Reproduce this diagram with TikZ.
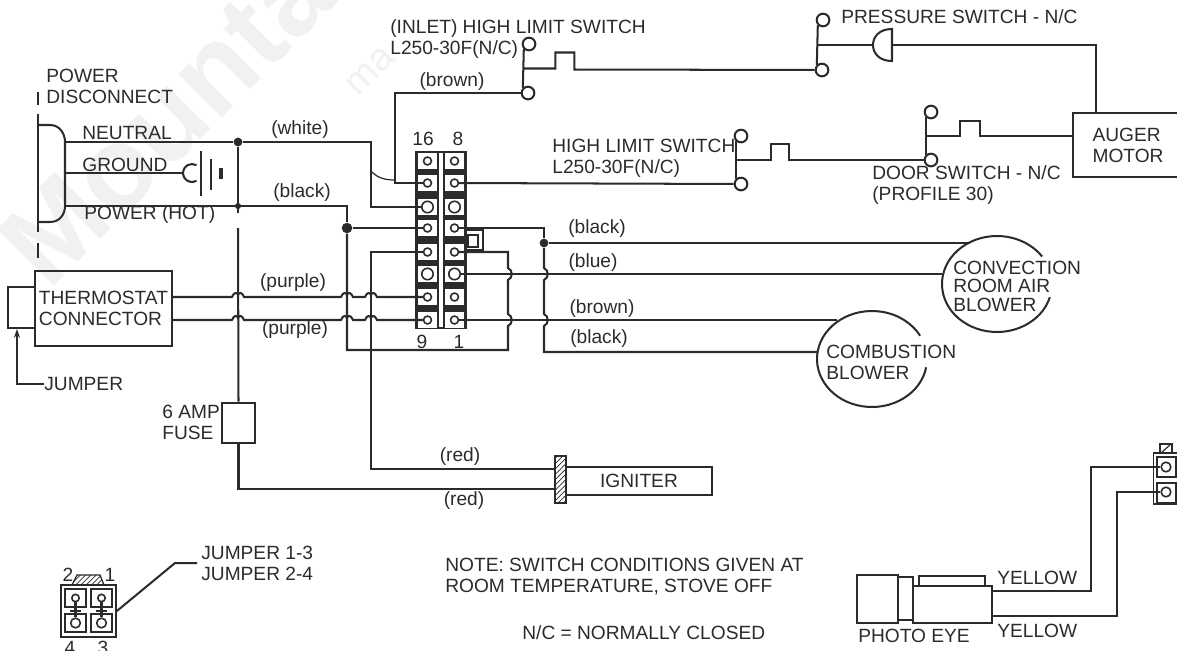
\documentclass[tikz,border=0pt]{standalone}
\usepackage{fontspec}
\setmainfont{Liberation Sans}
\usetikzlibrary{arrows.meta,patterns}
\definecolor{ink}{HTML}{2B2B2B}
\definecolor{mark}{HTML}{F1F1F1}
\newcommand{\hopv}[2]{-- (#1,#2-6) .. controls (#1+5,#2-4) and (#1+5,#2+4) .. (#1,#2+6)}
\newcommand{\hoph}[2]{-- (#1-6,#2) .. controls (#1-4,#2-5) and (#1-1,#2-5) .. (#1,#2-2) .. controls (#1+1,#2-5) and (#1+4,#2-5) .. (#1+6,#2)}
\tikzset{
    wire/.style={line width=1.15pt,draw=ink},
    thin wire/.style={line width=0.7pt,draw=ink},
    lbl/.style={inner sep=0pt,anchor=west,align=left,text=ink,font=\fontsize{10.9}{12}\selectfont},
    clbl/.style={lbl,anchor=center,align=center},
    contact/.style={circle,draw=ink,line width=1.15pt,fill=white,minimum size=7.2pt,inner sep=0pt},
    dot/.style={circle,fill=ink,minimum size=#1,inner sep=0pt},
    dot/.default=5pt,
    box/.style={rectangle,draw=ink,line width=1.15pt,inner sep=0pt,align=left,text=ink,font=\fontsize{10.9}{12}\selectfont},
    tbox/.style={rectangle,fill=white,minimum width=10.8pt,minimum height=9.6pt,inner sep=0pt},
    ring/.style={circle,draw=ink,line width=0.9pt,fill=white,inner sep=0pt,minimum size=#1}
}
\begin{document}
\begin{tikzpicture}[x=0.02cm,y=-0.02cm]
    \useasboundingbox (0,0) rectangle (1177,650);
    \node[rotate=45,anchor=base west,text=mark,inner sep=0pt,font=\fontsize{66}{66}\selectfont\bfseries] (markA) at (48,292) {Mountai};
    \node[rotate=45,anchor=base west,text=mark,inner sep=0pt,font=\fontsize{22}{22}\selectfont] (markB) at (358,98) {ma};

    % power disconnect
    \draw[wire] (38,92) -- (38,105);
    \draw[wire] (38,114) -- (38,232);
    \draw[wire] (38,243) -- (38,258);
    \draw[wire] (38,125) -- (50,125) .. controls (60,125) and (65,134) .. (65,142) -- (65,206) .. controls (65,214) and (60,222) .. (50,222) -- (38,222);
    \node[lbl] (power) at (46,86.5) {POWER\\DISCONNECT};
    \node[lbl] (neutral) at (82,133) {NEUTRAL};
    \node[lbl] (ground) at (82,165) {GROUND};
    \node[lbl] (hot) at (84,215) {POWER (HOT)};
    \coordinate (dN) at (65,142);
    \coordinate (dG) at (65,173);
    \coordinate (dH) at (65,206);
    \coordinate (gnd) at (183,173);
    \draw[thin wire] (dG) -- (gnd);
    \draw[wire] (192,173) ++(60:9) arc[start angle=60,end angle=300,radius=9];
    \draw[line width=1.5pt,draw=ink] (201,151) -- (201,196);
    \draw[wire] (211,159) -- (211,190);
    \draw[line width=1.8pt,draw=ink] (221,168) -- (221,179);

    % terminal block
    \node[rectangle,fill=ink,minimum width=29.5pt,minimum height=101pt,inner sep=0pt] (block) at (441,240) {};
    \fill[white] (439,153) rectangle (443,327);
    \foreach \n/\y/\r in {1/320/4.5pt,2/297/4.5pt,3/274/6.5pt,4/252/4.5pt,5/228/4.5pt,6/207/6.5pt,7/183/4.5pt,8/161/4.5pt}{
        \pgfmathtruncatemacro\m{\n+8}
        \node[tbox] (b\n) at (454.5,\y) {};
        \node[tbox] (b\m) at (427.5,\y) {};
        \node[ring=\r] (t\n) at (454.5,\y) {};
        \node[ring=\r] (t\m) at (427.5,\y) {};
    }
    \node[clbl] (n16) at (423,139) {16};
    \node[clbl] (n8) at (458,139) {8};
    \node[clbl] (n9) at (422,342) {9};
    \node[clbl] (n1) at (459,342) {1};
    \draw[wire] (467,230) -- (483,230) -- (483,250) -- (467,250);
    \draw[wire] (468,235) rectangle (478,247);

    % supply side
    \node[dot] (j1) at (238,142) {};
    \node[dot=3.5pt] (j2) at (238,206) {};
    \node[dot=6pt] (j3) at (347,228) {};
    \coordinate (wc) at (371,142);
    \draw[wire] (dN) -- (j1) -- (wc) |- (t14);
    \node[clbl] (white) at (300,130) {(white)};
    \draw[wire] (dH) -- (j2) -| (j3);
    \node[clbl] (blackA) at (302,193) {(black)};
    \draw[wire] (j1) -- (238,213);
    \draw[wire] (j3) -- (t13);
    \draw[thin wire] (372,172) .. controls (378,178) and (385,180) .. (395,180);

    % thermostat
    \node[box,minimum width=77.7pt,minimum height=43pt] (therm) at (103.5,308.5) {THERMOSTAT\\CONNECTOR};
    \coordinate (thA) at (35,287);
    \coordinate (thB) at (35,328);
    \draw[wire] (thA) -- (8,287) -- (8,328) -- (thB);
    \node[lbl] (jump) at (44,384) {JUMPER};
    \coordinate (jp) at (17,329);
    \draw[wire,-{Stealth[length=5pt,width=3.5pt]}] (jump.west) -| (jp);
    \coordinate (thP) at (172,297);
    \coordinate (thQ) at (172,320);
    \draw[wire] (thP) \hoph{238}{297} \hoph{347}{297} \hoph{371}{297} -- (t10);
    \draw[wire] (thQ) \hoph{238}{320} \hoph{347}{320} \hoph{371}{320} -- (t9);
    \node[clbl] (purpleA) at (293,283) {(purple)};
    \node[clbl] (purpleB) at (295,330) {(purple)};

    % fuse and igniter
    \node[box,minimum width=18.7pt,minimum height=23.2pt] (fuse) at (238.5,423) {};
    \node[lbl] (amp) at (162,422) {6 AMP\\FUSE};
    \coordinate (fg) at (238,228);
    \draw[wire] (fg) -- (fuse.north);
    \node[box,minimum width=82.8pt,minimum height=16.4pt] (igniter) at (639,481) {IGNITER};
    \node[rectangle,draw=ink,line width=0.8pt,pattern=north east lines,pattern color=ink,minimum width=6.2pt,minimum height=26.6pt,inner sep=0pt] (bar) at (560.5,479.5) {};
    \coordinate (igA) at (555,469);
    \coordinate (igB) at (555,489);
    \coordinate (rc) at (371,252);
    \draw[wire] (t12) -- (rc) |- (igA);
    \draw[wire] (fuse.south) |- (igB);
    \node[clbl] (redA) at (460,457) {(red)};
    \node[clbl] (redB) at (464,501) {(red)};

    % switches
    \node[contact] (inA) at (529,44) {};
    \node[contact] (inB) at (528,93) {};
    \draw[wire] (inA.south west) -- (inB.north west) coordinate[midway] (inM);
    \node[lbl] (inlet) at (390,39) {(INLET) HIGH LIMIT SWITCH\\L250-30F(N/C)};
    \coordinate (bc) at (395,93);
    \draw[wire] (inB) -- (bc) |- (t15);
    \node[clbl] (brownA) at (452,82) {(brown)};
    \node[contact] (prA) at (823,20) {};
    \node[contact] (prB) at (822,70) {};
    \draw[wire] (prA.south west) -- (prB.north west) coordinate[midway] (prM);
    \node[lbl] (press) at (841,17) {PRESSURE SWITCH - N/C};
    \draw[wire] (inM) -- ++(32,0) -- ++(0,-16) -- ++(19,0) -- ++(0,17) -- (prB);
    \coordinate (prL) at (873,45);
    \coordinate (prR) at (892,45);
    \draw[wire] (892,29) .. controls (879,29) and (873,37) .. (prL) .. controls (873,53) and (879,61) .. (892,61) -- cycle;
    \draw[thin wire] (prM) -- (prL);
    \node[box,minimum width=62.4pt,minimum height=36.3pt] (auger) at (1128,145) {AUGER\\MOTOR};
    \coordinate (augT) at (1096,113);
    \draw[thin wire] (prR) -| (augT);
    \node[contact] (hiA) at (741,136) {};
    \node[contact] (hiB) at (741,184) {};
    \draw[wire] (hiA.south west) -- (hiB.north west) coordinate[midway] (hiM);
    \node[lbl] (high) at (552,158) {HIGH LIMIT SWITCH\\L250-30F(N/C)};
    \draw[wire] (t7) -- (hiB);
    \node[contact] (doA) at (931,112) {};
    \node[contact] (doB) at (931,160) {};
    \draw[wire] (doA.south west) -- (doB.north west) coordinate[midway] (doM);
    \node[lbl] (door) at (872,185) {DOOR SWITCH - N/C\\(PROFILE 30)};
    \draw[wire] (hiM) -- ++(35,0) -- ++(0,-16) -- ++(18,0) -- ++(0,16) -- (doB);
    \draw[wire] (doM) -- ++(34,0) -- ++(0,-15) -- ++(20,0) -- ++(0,15) -- (auger.west |- doM);

    % blowers
    \coordinate (convC) at (997,284);
    \coordinate (combC) at (872,359);
    \draw[wire] (convC) ++(16:55 and 48) arc[start angle=16,end angle=325,x radius=55,y radius=48];
    \draw[wire] (combC) ++(10:55 and 48) arc[start angle=10,end angle=331,x radius=55,y radius=48];
    \node[lbl,font=\fontsize{10.9}{10.5}\selectfont] (conv) at (953,286) {CONVECTION\\ROOM AIR\\BLOWER};
    \node[lbl] (comb) at (826,362.5) {COMBUSTION\\BLOWER};
    \node[dot] (j4) at (544,243) {};
    \coordinate (convA) at (970,243);
    \coordinate (convB) at (942,274);
    \coordinate (combA) at (837,320);
    \coordinate (combB) at (817,352);
    \coordinate (rj) at (544,228);
    \draw[wire] (t5) -- (rj) -- (j4) -- (convA);
    \draw[wire] (t3) -- (convB);
    \draw[wire] (t1) -- (combA);
    \draw[wire] (j4) \hopv{544}{274} \hopv{544}{320} -- (544,352) -- (combB);
    \coordinate (rk) at (508,252);
    \draw[wire] (t4) -- (rk) \hopv{508}{274} \hopv{508}{320} -- (508,350) -| (j3);
    \node[clbl] (blackB) at (597,229) {(black)};
    \node[clbl] (blue) at (593,263) {(blue)};
    \node[clbl] (brownB) at (602,309) {(brown)};
    \node[clbl] (blackC) at (599,339) {(black)};

    % notes
    \node[lbl] (noteA) at (445,576.5) {NOTE: SWITCH CONDITIONS GIVEN AT\\ROOM TEMPERATURE, STOVE OFF};
    \node[lbl] (noteB) at (522,633) {N/C = NORMALLY CLOSED};

    % jumper plug
    \node[box,line width=1.3pt,minimum width=31pt,minimum height=29.5pt] (plug) at (88.5,611) {};
    \foreach \n/\x/\y/\r in {1/101.5/598/4.2pt,2/75.5/598/4.2pt,3/101.5/623/5.5pt,4/75.5/623/5.5pt}{
        \draw[thin wire] (\x-10.5,\y-9) rectangle (\x+10.5,\y+9);
        \node[ring=\r] (p\n) at (\x,\y) {};
    }
    \draw[wire] (p1) -- (p3);
    \draw[wire] (p2) -- (p4);
    \draw[thin wire] (96,611) -- (107,611);
    \draw[thin wire] (70,611) -- (81,611);
    \draw[thin wire,pattern=north east lines,pattern color=ink] (72,585) -- (77,575) -- (100,575) -- (104,585) -- cycle;
    \node[clbl] (pa) at (68,575) {2};
    \node[clbl] (pb) at (110,575) {1};
    \node[clbl] (pc) at (70,648) {4};
    \node[clbl] (pd) at (103,648) {3};
    \node[lbl] (jtext) at (201,563) {JUMPER 1-3\\JUMPER 2-4};
    \coordinate (ja) at (175,563);
    \coordinate (jb) at (197,563);
    \draw[wire] (plug.east) -- (ja) -- (jb);

    % photo eye
    \draw[wire] (857,575) rectangle (898,623);
    \draw[wire] (898,577) rectangle (913,620);
    \draw[wire] (919,586) -- (919,576) -- (985,576) -- (985,586);
    \node[box,minimum width=44.8pt,minimum height=21pt] (eye) at (952.5,604.5) {};
    \node[lbl] (photo) at (858,636) {PHOTO EYE};
    \node[lbl] (yelA) at (997,578) {YELLOW};
    \node[lbl] (yelB) at (997,631) {YELLOW};
    \node[box,line width=0.7pt,minimum width=14pt,minimum height=29pt] (cbox) at (1165.5,478.5) {};
    \draw[thin wire] (1157,457) rectangle (1176,477);
    \draw[thin wire] (1157,483) rectangle (1176,503);
    \node[ring=5.5pt] (cA) at (1166,467) {};
    \node[ring=5.5pt] (cB) at (1166,492) {};
    \draw[thin wire] (1160,444) rectangle (1172,453);
    \draw[thin wire] (1162,452) -- (1170,445);
    \coordinate (eyA) at (992,591);
    \coordinate (eyB) at (992,616);
    \coordinate (cwA) at (1091,467);
    \coordinate (cwB) at (1117,492);
    \draw[wire] (eyA) -| (cwA) -- (cA);
    \draw[wire] (eyB) -| (cwB) -- (cB);
\end{tikzpicture}
\end{document}
